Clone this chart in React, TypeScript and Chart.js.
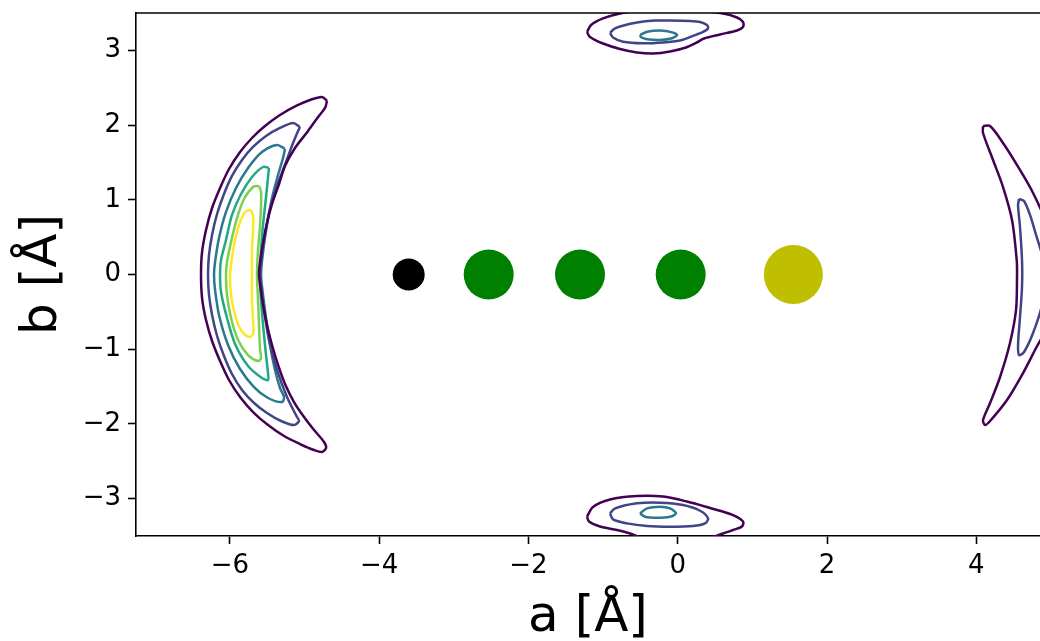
import { useEffect, useRef } from 'react';
import { Chart, registerables } from 'chart.js';

Chart.register(...registerables);

type Pt = [number, number];

// Axis ranges and ticks
const xRange: Pt = [-7.257, 4.853];
const yRange: Pt = [-3.5, 3.5];
const xTicks = [-6, -4, -2, 0, 2, 4];
const yTicks = [-3, -2, -1, 0, 1, 2, 3];
const xTitle = 'a [Å]';
const yTitle = 'b [Å]';

// Contour level colours (viridis)
const levelColors = ['#440154', '#414487', '#2a788e', '#22a884', '#7ad151', '#fde725'];

// Left crescent contours (levels 1..6)
const leftLevel1: Pt[] = [
  [-4.698, 2.323], [-4.765, 2.376], [-4.926, 2.336], [-5.113, 2.256], [-5.328, 2.135],
  [-5.529, 1.988], [-5.703, 1.827], [-5.863, 1.64], [-6.011, 1.412], [-6.131, 1.158],
  [-6.238, 0.89], [-6.319, 0.596], [-6.372, 0.301], [-6.386, 0.0], [-6.372, -0.315],
  [-6.319, -0.609], [-6.238, -0.89], [-6.131, -1.158], [-6.011, -1.412], [-5.863, -1.64],
  [-5.689, -1.841], [-5.488, -2.015], [-5.274, -2.162], [-5.06, -2.269], [-4.872, -2.349],
  [-4.765, -2.376], [-4.711, -2.323], [-4.738, -2.242], [-4.872, -2.082], [-5.006, -1.908],
  [-5.14, -1.707], [-5.261, -1.466], [-5.354, -1.211], [-5.435, -0.944], [-5.502, -0.676],
  [-5.555, -0.408], [-5.595, -0.141], [-5.609, 0.007], [-5.595, 0.167], [-5.555, 0.422],
  [-5.502, 0.689], [-5.435, 0.944], [-5.341, 1.211], [-5.261, 1.452], [-5.127, 1.693],
  [-4.952, 1.921], [-4.818, 2.108], [-4.725, 2.229], [-4.698, 2.323],
];
const leftLevel2: Pt[] = [
  [-5.06, 1.975], [-5.153, 2.028], [-5.328, 1.961], [-5.515, 1.854], [-5.689, 1.707],
  [-5.837, 1.533], [-5.971, 1.319], [-6.078, 1.078], [-6.171, 0.81], [-6.238, 0.529],
  [-6.279, 0.261], [-6.292, 0.0], [-6.279, -0.274], [-6.238, -0.542], [-6.171, -0.823],
  [-6.078, -1.091], [-5.971, -1.332], [-5.837, -1.546], [-5.676, -1.72], [-5.502, -1.854],
  [-5.314, -1.961], [-5.14, -2.015], [-5.073, -1.961], [-5.1, -1.908], [-5.234, -1.64],
  [-5.368, -1.278], [-5.475, -0.877], [-5.542, -0.475], [-5.582, -0.141], [-5.595, 0.007],
  [-5.582, 0.167], [-5.542, 0.462], [-5.475, 0.823], [-5.368, 1.185], [-5.247, 1.506],
  [-5.153, 1.76], [-5.086, 1.921], [-5.06, 1.975],
];
const leftLevel3: Pt[] = [
  [-5.261, 1.68], [-5.368, 1.734], [-5.569, 1.64], [-5.756, 1.426], [-5.917, 1.158],
  [-6.051, 0.837], [-6.145, 0.489], [-6.198, 0.167], [-6.212, 0.0], [-6.198, -0.207],
  [-6.145, -0.542], [-6.024, -0.944], [-5.863, -1.265], [-5.676, -1.506], [-5.488, -1.653],
  [-5.301, -1.707], [-5.274, -1.64], [-5.328, -1.519], [-5.395, -1.278], [-5.462, -0.944],
  [-5.515, -0.582], [-5.555, -0.274], [-5.582, 0.0], [-5.555, 0.301], [-5.502, 0.663],
  [-5.435, 1.024], [-5.354, 1.332], [-5.287, 1.56], [-5.261, 1.68],
];
const leftLevel4: Pt[] = [
  [-5.475, 1.426], [-5.555, 1.439], [-5.703, 1.305], [-5.85, 1.078], [-5.971, 0.797],
  [-6.051, 0.462], [-6.118, 0.194], [-6.131, 0.0], [-6.118, -0.234], [-6.038, -0.582],
  [-5.93, -0.93], [-5.756, -1.225], [-5.569, -1.386], [-5.488, -1.412], [-5.488, -1.332],
  [-5.515, -1.078], [-5.555, -0.676], [-5.582, -0.341], [-5.595, 0.0], [-5.582, 0.328],
  [-5.555, 0.663], [-5.515, 1.037], [-5.488, 1.305], [-5.475, 1.426],
];
const leftLevel5: Pt[] = [
  [-5.609, 1.185], [-5.689, 1.171], [-5.81, 1.011], [-5.904, 0.756], [-5.984, 0.435],
  [-6.038, 0.167], [-6.051, 0.0], [-6.038, -0.274], [-5.984, -0.582], [-5.89, -0.877],
  [-5.756, -1.078], [-5.622, -1.158], [-5.582, -1.118], [-5.595, -1.011], [-5.609, -0.676],
  [-5.622, -0.341], [-5.636, 0.0], [-5.622, 0.328], [-5.595, 0.663], [-5.582, 0.93],
  [-5.582, 1.104], [-5.609, 1.185],
];
const leftLevel6: Pt[] = [
  [-5.716, 0.863], [-5.783, 0.85], [-5.863, 0.703], [-5.93, 0.462], [-5.971, 0.221],
  [-5.997, 0.0], [-5.984, -0.274], [-5.93, -0.542], [-5.85, -0.743], [-5.743, -0.837],
  [-5.689, -0.797], [-5.689, -0.609], [-5.703, -0.341], [-5.703, 0.0], [-5.703, 0.328],
  [-5.689, 0.596], [-5.689, 0.783], [-5.716, 0.863],
];

// Top blob contours (levels 1..3)
const topLevel1: Pt[] = [
  [-1.215, 3.246], [-1.161, 3.34], [-1.001, 3.427], [-0.773, 3.494], [-0.438, 3.541],
  [0.165, 3.541], [0.607, 3.494], [0.794, 3.44], [0.875, 3.38], [0.875, 3.313],
  [0.794, 3.266], [0.567, 3.213], [0.352, 3.159], [0.245, 3.099], [0.111, 3.039],
  [-0.103, 2.985], [-0.331, 2.958], [-0.545, 2.972], [-0.773, 3.019], [-1.001, 3.092],
  [-1.175, 3.179], [-1.215, 3.246],
];
const topLevel2: Pt[] = [
  [-0.907, 3.233], [-0.853, 3.286], [-0.773, 3.32], [-0.545, 3.373], [-0.304, 3.398],
  [-0.103, 3.4], [0.165, 3.394], [0.299, 3.38], [0.392, 3.34], [0.406, 3.293],
  [0.339, 3.246], [0.205, 3.193], [0.031, 3.133], [-0.197, 3.106], [-0.465, 3.095],
  [-0.733, 3.116], [-0.867, 3.173], [-0.907, 3.233],
];
const topLevel3: Pt[] = [
  [-0.505, 3.206], [-0.411, 3.25], [-0.197, 3.264], [-0.063, 3.237], [-0.009, 3.206],
  [-0.076, 3.162], [-0.237, 3.139], [-0.411, 3.149], [-0.491, 3.175], [-0.505, 3.206],
];

// Bottom blob contours (levels 1..3)
const bottomLevel1: Pt[] = [
  [-1.215, -3.24], [-1.135, -3.112], [-0.907, -3.012], [-0.545, -2.965], [-0.197, -2.972],
  [0.125, -3.039], [0.433, -3.126], [0.741, -3.22], [0.875, -3.307], [0.861, -3.373],
  [0.741, -3.42], [0.607, -3.467], [0.299, -3.554], [-0.371, -3.554], [-0.639, -3.467],
  [-0.813, -3.42], [-1.041, -3.373], [-1.188, -3.307], [-1.215, -3.24],
];
const bottomLevel2: Pt[] = [
  [-0.907, -3.197], [-0.853, -3.139], [-0.773, -3.108], [-0.545, -3.063], [-0.237, -3.055],
  [0.071, -3.086], [0.299, -3.162], [0.406, -3.264], [0.366, -3.331], [0.205, -3.367],
  [-0.103, -3.376], [-0.411, -3.367], [-0.679, -3.331], [-0.867, -3.277], [-0.907, -3.197],
];
const bottomLevel3: Pt[] = [
  [-0.505, -3.197], [-0.411, -3.13], [-0.237, -3.108], [-0.103, -3.13], [-0.023, -3.197],
  [-0.103, -3.242], [-0.277, -3.256], [-0.438, -3.242], [-0.505, -3.197],
];

// Right crescent contours (levels 1..2)
const rightLevel1: Pt[] = [
  [4.09, 1.988], [4.184, 1.988], [4.358, 1.76], [4.585, 1.399], [4.76, 1.091],
  [4.92, 0.73], [5.054, 0.194], [5.068, -0.207], [4.961, -0.676], [4.786, -1.011],
  [4.626, -1.319], [4.411, -1.68], [4.184, -1.961], [4.117, -2.015], [4.09, -1.948],
  [4.184, -1.72], [4.318, -1.372], [4.451, -0.917], [4.532, -0.475], [4.545, -0.033],
  [4.541, 0.194], [4.478, 0.73], [4.358, 1.171], [4.224, 1.533], [4.09, 1.894], [4.09, 1.988],
];
const rightLevel2: Pt[] = [
  [4.572, 1.011], [4.639, 0.984], [4.719, 0.797], [4.8, 0.529], [4.88, 0.261],
  [4.92, -0.074], [4.88, -0.408], [4.76, -0.783], [4.639, -1.037], [4.572, -1.078],
  [4.559, -0.944], [4.585, -0.569], [4.612, -0.167], [4.612, 0.194], [4.585, 0.636],
  [4.559, 0.93], [4.572, 1.011],
];

// Atoms along the b = 0 line
const atomX = [-3.604, -2.532, -1.309, 0.04, 1.549];
const atomY = [0, 0, 0, 0, 0];
const atomRadius = [16, 25, 25, 25, 29.5];
const atomColors = ['#000000', '#008000', '#008000', '#008000', '#bfbf00'];

const contours: { pts: Pt[]; level: number }[] = [
  { pts: leftLevel1, level: 0 },
  { pts: leftLevel2, level: 1 },
  { pts: leftLevel3, level: 2 },
  { pts: leftLevel4, level: 3 },
  { pts: leftLevel5, level: 4 },
  { pts: leftLevel6, level: 5 },
  { pts: topLevel1, level: 0 },
  { pts: topLevel2, level: 1 },
  { pts: topLevel3, level: 2 },
  { pts: bottomLevel1, level: 0 },
  { pts: bottomLevel2, level: 1 },
  { pts: bottomLevel3, level: 2 },
  { pts: rightLevel1, level: 0 },
  { pts: rightLevel2, level: 1 },
];

const fmt = (v: number) => (v < 0 ? '\u2212' + Math.abs(v) : String(v));

const zeroPadding = (scale: any) => {
  scale.paddingLeft = 0;
  scale.paddingRight = 0;
  scale.paddingTop = 0;
  scale.paddingBottom = 0;
};

const topSpine = {
  id: 'topSpine',
  afterDraw(chart: any) {
    const { ctx, chartArea } = chart;
    ctx.save();
    ctx.strokeStyle = '#000';
    ctx.lineWidth = 1.6;
    ctx.beginPath();
    ctx.moveTo(chartArea.left - 0.8, chartArea.top);
    ctx.lineTo(chartArea.right, chartArea.top);
    ctx.stroke();
    ctx.restore();
  },
};

export default function App() {
  const ref = useRef<HTMLCanvasElement>(null);

  useEffect(() => {
    const canvas = ref.current;
    if (!canvas) return;

    const contourSets = contours.map((c) => ({
      type: 'scatter' as const,
      data: c.pts.map(([x, y]) => ({ x, y })),
      showLine: true,
      borderColor: levelColors[c.level],
      backgroundColor: levelColors[c.level],
      borderWidth: 2.5,
      pointRadius: 0,
      pointHoverRadius: 0,
      tension: 0.3,
      fill: false,
    }));

    const atomSet = {
      type: 'scatter' as const,
      data: atomX.map((x, i) => ({ x, y: atomY[i] })),
      showLine: false,
      pointRadius: atomRadius,
      pointHoverRadius: atomRadius,
      pointBackgroundColor: atomColors,
      pointBorderWidth: 0,
      pointBorderColor: atomColors,
    };

    const tickFont = { family: 'DejaVu Sans', size: 26, lineHeight: 1 };
    const titleFont = { family: 'DejaVu Sans', size: 50, lineHeight: 1 };

    const chart = new Chart(canvas, {
      type: 'scatter',
      data: { datasets: [...contourSets, atomSet] as any },
      options: {
        animation: false,
        responsive: false,
        events: [],
        layout: { autoPadding: false, padding: { top: 13, right: 0, left: 0, bottom: 0 } },
        plugins: { legend: { display: false }, tooltip: { enabled: false } },
        scales: {
          x: {
            type: 'linear',
            min: xRange[0],
            max: xRange[1],
            afterBuildTicks: (scale: any) => {
              scale.ticks = xTicks.map((v) => ({ value: v }));
            },
            afterFit: (scale: any) => {
              scale.height = 105;
              zeroPadding(scale);
            },
            grid: {
              drawOnChartArea: false,
              drawTicks: true,
              tickLength: 8,
              tickWidth: 1.6,
              tickColor: '#000',
            },
            border: { display: true, color: '#000', width: 1.6 },
            ticks: {
              color: '#000',
              font: tickFont,
              padding: 9,
              maxRotation: 0,
              minRotation: 0,
              autoSkip: false,
              callback: (v: any) => fmt(Number(v)),
            },
            title: {
              display: true,
              text: xTitle,
              color: '#000',
              font: titleFont,
              padding: { top: 0, bottom: -2 },
            },
          },
          y: {
            type: 'linear',
            min: yRange[0],
            max: yRange[1],
            afterBuildTicks: (scale: any) => {
              scale.ticks = yTicks.map((v) => ({ value: v }));
            },
            afterFit: (scale: any) => {
              scale.width = 136;
              zeroPadding(scale);
            },
            grid: {
              drawOnChartArea: false,
              drawTicks: true,
              tickLength: 8,
              tickWidth: 1.6,
              tickColor: '#000',
            },
            border: { display: true, color: '#000', width: 1.6 },
            ticks: {
              color: '#000',
              font: tickFont,
              padding: 7,
              autoSkip: false,
              callback: (v: any) => fmt(Number(v)),
            },
            title: {
              display: true,
              text: yTitle,
              color: '#000',
              font: titleFont,
              padding: { top: 18, bottom: 0 },
            },
          },
        },
      },
      plugins: [topSpine],
    });

    return () => chart.destroy();
  }, []);

  return (
    <div style={{ position: 'absolute', left: 0, top: 0, width: 1040, height: 641, background: '#fff' }}>
      <canvas ref={ref} width={1040} height={641} style={{ display: 'block', width: 1040, height: 641 }} />
    </div>
  );
}
